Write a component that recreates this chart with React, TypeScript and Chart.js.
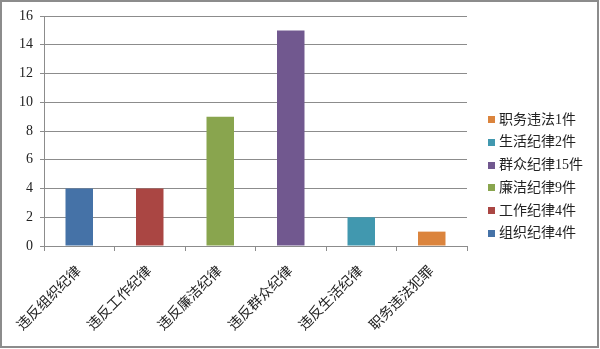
import React, { useEffect, useRef } from 'react';
import { Chart, registerables } from 'chart.js';

Chart.register(...registerables);

const categories = ['违反组织纪律', '违反工作纪律', '违反廉洁纪律', '违反群众纪律', '违反生活纪律', '职务违法犯罪'];
const values = [4, 4, 9, 15, 2, 1];
const legendLabels = ['组织纪律4件', '工作纪律4件', '廉洁纪律9件', '群众纪律15件', '生活纪律2件', '职务违法1件'];
const barColors = ['#4572A7', '#AA4643', '#89A54E', '#71588F', '#4198AF', '#DB843D'];
const yMin = 0;
const yMax = 16;
const yStep = 2;

const FONT = "'Liberation Serif', 'Noto Sans CJK SC', serif";

export default function App() {
  const ref = useRef<HTMLCanvasElement | null>(null);

  useEffect(() => {
    document.body.style.margin = '0';
    const canvas = ref.current;
    if (!canvas) return;

    const legendPlugin = {
      id: 'customLegend',
      afterDraw(chart: any) {
        const ctx = chart.ctx;
        ctx.save();
        const startY = 119.6;
        const gap = 22.7;
        ctx.font = `14px ${FONT}`;
        ctx.textBaseline = 'middle';
        ctx.textAlign = 'left';
        for (let i = 0; i < legendLabels.length; i++) {
          const idx = legendLabels.length - 1 - i;
          const y = startY + gap * i;
          ctx.fillStyle = barColors[idx];
          ctx.fillRect(488, Math.round(y - 3.5), 7, 7);
          ctx.fillStyle = '#222';
          ctx.fillText(legendLabels[idx], 499, y + 0.5);
        }
        ctx.strokeStyle = '#8c8c8c';
        ctx.lineWidth = 2;
        ctx.strokeRect(1, 1, 597, 346);
        ctx.restore();
      },
    };

    const chart = new Chart(canvas, {
      type: 'bar',
      data: {
        labels: categories,
        datasets: [
          {
            data: values,
            backgroundColor: barColors,
            borderWidth: 0,
            barPercentage: 0.39,
            categoryPercentage: 1,
          },
        ],
      },
      options: {
        responsive: false,
        animation: false,
        devicePixelRatio: 1,
        layout: { padding: { left: 0, top: 16, right: 133, bottom: 0 } },
        plugins: {
          legend: { display: false },
          tooltip: { enabled: false },
        },
        scales: {
          x: {
            offset: true,
            grid: {
              offset: true,
              drawOnChartArea: false,
              drawTicks: true,
              tickLength: 5,
              color: '#8c8c8c',
            },
            border: { color: '#8c8c8c', width: 1 },
            ticks: {
              autoSkip: false,
              maxRotation: 45,
              minRotation: 45,
              padding: 12,
              color: '#222',
              font: { family: FONT, size: 14 },
            },
            afterFit(scale: any) {
              scale.height = 103;
            },
          },
          y: {
            min: yMin,
            max: yMax,
            ticks: {
              stepSize: yStep,
              padding: 7,
              color: '#222',
              font: { family: FONT, size: 14 },
            },
            grid: {
              color: '#8c8c8c',
              drawTicks: true,
              tickLength: 4,
            },
            border: { color: '#8c8c8c', width: 1 },
            afterFit(scale: any) {
              scale.width = 44;
            },
          },
        },
      },
      plugins: [legendPlugin],
    });

    return () => {
      chart.destroy();
    };
  }, []);

  return (
    <div style={{ width: 600, height: 349 }}>
      <canvas ref={ref} width={600} height={349} style={{ width: 600, height: 349, display: 'block' }} />
    </div>
  );
}
